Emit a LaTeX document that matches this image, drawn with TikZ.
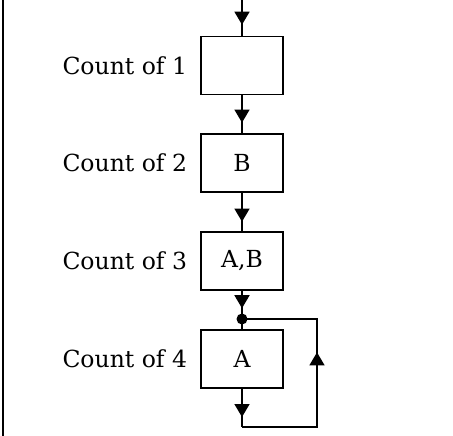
\documentclass[tikz,border=0pt]{standalone}
\usepackage{tikz}
\usepackage{fontspec}
\setmainfont{DejaVu Serif}
\usetikzlibrary{arrows.meta,decorations.markings}

\tikzset{
  cbox/.style={draw, line width=1.4pt, minimum width=82pt, minimum height=58pt,
    inner sep=0pt, font=\fontsize{23.5}{28}\selectfont},
  clabel/.style={anchor=east, inner sep=0pt, font=\fontsize{23.5}{28}\selectfont},
  midarrow/.style={line width=1.4pt, postaction={decorate},
    decoration={markings, mark=at position #1 with {\arrow{Triangle[width=15pt,length=13pt]}}}},
}

\begin{document}
\begin{tikzpicture}[x=1pt, y=-1pt]
    \useasboundingbox (0,0) rectangle (453,436);
    \draw[line width=2pt] (3,0) -- (3,436);

    \foreach \i/\y/\t in {1/65.5/{}, 2/163/B, 3/261/{A,B}, 4/359/A} {
      \node[cbox] (box\i) at (242,\y) {\t};
      \node[clabel] (lab\i) at ([xshift=-13pt]box\i.west) {Count of \i};
    }

    \coordinate (top) at (242,0);
    \coordinate (split) at (242,319);
    \coordinate (loopdown) at (242,427);
    \coordinate (loopright) at (317,427);
    \coordinate (loopup) at (317,319);

    \draw[midarrow=0.69] (top) -- (box1);
    \draw[midarrow=0.72] (box1) -- (box2);
    \draw[midarrow=0.75] (box2) -- (box3);
    \draw[midarrow=0.62] (box3) -- (split);
    \draw[line width=1.4pt] (split) -- (box4);
    \draw[midarrow=0.74] (box4) -- (loopdown);
    \draw[midarrow=0.58] (loopdown) -- (loopright) -- (loopup) -- (split);
    \fill (split) circle (5.5pt);
  \end{tikzpicture}
\end{document}
